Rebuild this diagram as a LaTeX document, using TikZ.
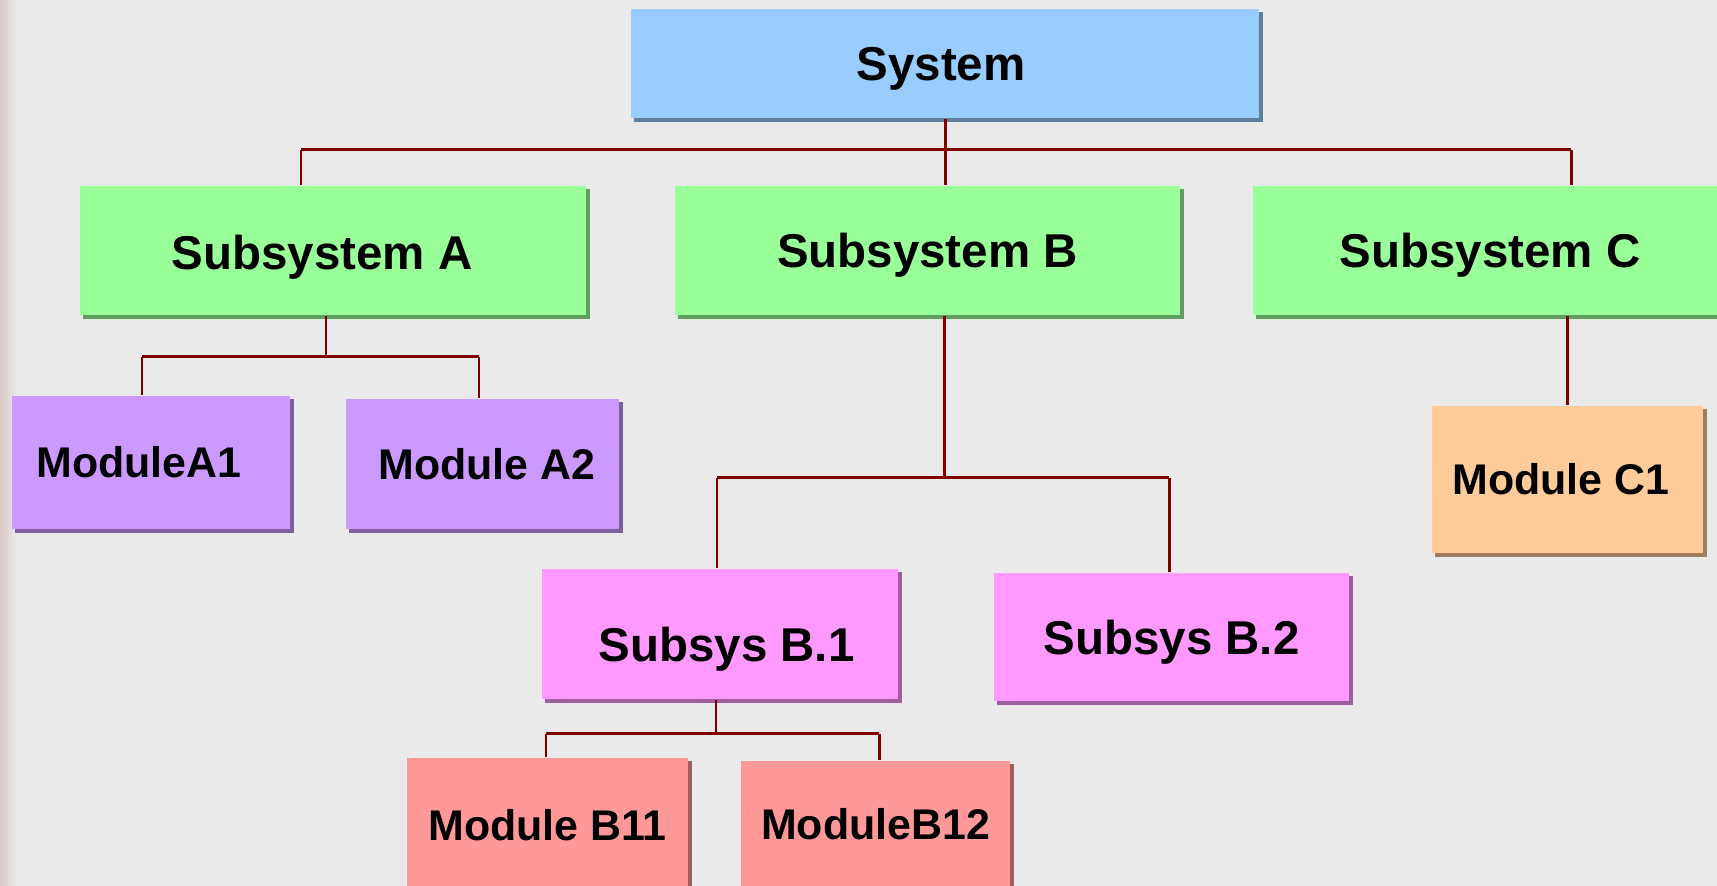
\documentclass[tikz,border=0pt]{standalone}
\usepackage{fontspec}
\setmainfont{Liberation Sans}
\usetikzlibrary{shadows}

\definecolor{bgcol}{HTML}{EAEAEA}
\definecolor{edgecol}{HTML}{D8C6C6}
\definecolor{linkcol}{HTML}{800000}
\definecolor{sysblue}{HTML}{99CCFF}
\definecolor{subgreen}{HTML}{99FF99}
\definecolor{modpurple}{HTML}{CC99FF}
\definecolor{subpink}{HTML}{FF99FF}
\definecolor{modred}{HTML}{FF9999}
\definecolor{modorange}{HTML}{FFCC99}

\tikzset{
  box/.style={rectangle, fill=#1, inner sep=0pt,
    general shadow={fill=black!38!#1, shadow xshift=0.035cm, shadow yshift=-0.035cm}},
  bigtext/.style={inner sep=0pt, font=\fontsize{13.5}{16}\selectfont\bfseries},
  smalltext/.style={inner sep=0pt, font=\fontsize{12.2}{14}\selectfont\bfseries},
  link/.style={draw=linkcol, line width=0.85pt}
}

\begin{document}
\begin{tikzpicture}[x=0.01cm,y=-0.01cm]
\fill[bgcol] (0,0) rectangle (1717,886);
\shade[left color=edgecol,right color=bgcol] (0,0) rectangle (16,886);
\useasboundingbox (0,0) rectangle (1717,886);

% top level
\node[box=sysblue,minimum width=6.28cm,minimum height=1.09cm] (sys) at (945,63.5) {};

% subsystems
\node[box=subgreen,minimum width=5.06cm,minimum height=1.29cm] (subA) at (333,250.5) {};
\node[box=subgreen,minimum width=5.05cm,minimum height=1.29cm] (subB) at (927.5,250.5) {};
\node[box=subgreen,minimum width=4.74cm,minimum height=1.29cm] (subC) at (1490,250.5) {};

% modules of A
\node[box=modpurple,minimum width=2.78cm,minimum height=1.33cm] (modA1) at (151,462.5) {};
\node[box=modpurple,minimum width=2.73cm,minimum height=1.30cm] (modA2) at (482.5,464) {};

% parts of B
\node[box=subpink,minimum width=3.56cm,minimum height=1.30cm] (subB1) at (720,634) {};
\node[box=subpink,minimum width=3.55cm,minimum height=1.28cm] (subB2) at (1171.5,637) {};

\node[box=modred,minimum width=2.81cm,minimum height=1.34cm] (modB11) at (547.5,825) {};
\node[box=modred,minimum width=2.69cm,minimum height=1.34cm] (modB12) at (875.5,828) {};

% module of C
\node[box=modorange,minimum width=2.71cm,minimum height=1.47cm] (modC1) at (1567.5,479.5) {};

% texts
\node[bigtext] (sysT) at ([shift={(-4,5.5)}]sys) {System};
\node[bigtext] (subAT) at ([shift={(-11,6.5)}]subA) {Subsystem A};
\node[bigtext] (subBT) at ([shift={(0,4.5)}]subB) {Subsystem B};
\node[bigtext] (subCT) at ([shift={(0,4.5)}]subC) {Subsystem C};
\node[smalltext] (modA1T) at ([shift={(-12,0)}]modA1) {ModuleA1};
\node[smalltext] (modA2T) at ([shift={(4.5,0)}]modA2) {Module A2};
\node[bigtext] (subB1T) at ([shift={(6.5,15)}]subB1) {Subsys B.1};
\node[bigtext] (subB2T) at ([shift={(0,5.5)}]subB2) {Subsys B.2};
\node[smalltext] (modB11T) at (modB11) {Module B11};
\node[smalltext] (modB12T) at ([shift={(0,-4)}]modB12) {ModuleB12};
\node[smalltext] (modC1T) at ([shift={(-6.5,0)}]modC1) {Module C1};

% connectors
\coordinate (topL) at (301,150);
\coordinate (topR) at (1571,150);
\draw[link] (topL) -- (topR);
\draw[link] (topL) -- (topL |- subA.north);
\draw[link] (topR) -- (topR |- subC.north);
\draw[link] (sys.south) -- (sys.south |- subB.north);

\coordinate (aL) at (142,357);
\coordinate (aM) at (326,357);
\coordinate (aR) at (479,357);
\draw[link] (aM |- subA.south) -- (aM);
\draw[link] (aL) -- (aR);
\draw[link] (aL) -- (aL |- modA1.north);
\draw[link] (aR) -- (aR |- modA2.north);

\coordinate (bL) at (717,478);
\coordinate (bM) at (944,478);
\coordinate (bR) at (1169,478);
\draw[link] (bM |- subB.south) -- (bM);
\draw[link] (bL) -- (bR);
\draw[link] (bL) -- (bL |- subB1.north);
\draw[link] (bR) -- (bR |- subB2.north);

\coordinate (b1L) at (546,734);
\coordinate (b1M) at (716,734);
\coordinate (b1R) at (879,734);
\draw[link] (b1M |- subB1.south) -- (b1M);
\draw[link] (b1L) -- (b1R);
\draw[link] (b1L) -- (b1L |- modB11.north);
\draw[link] (b1R) -- (b1R |- modB12.north);

\draw[link] (modC1.north) -- (modC1.north |- subC.south);
\end{tikzpicture}
\end{document}
